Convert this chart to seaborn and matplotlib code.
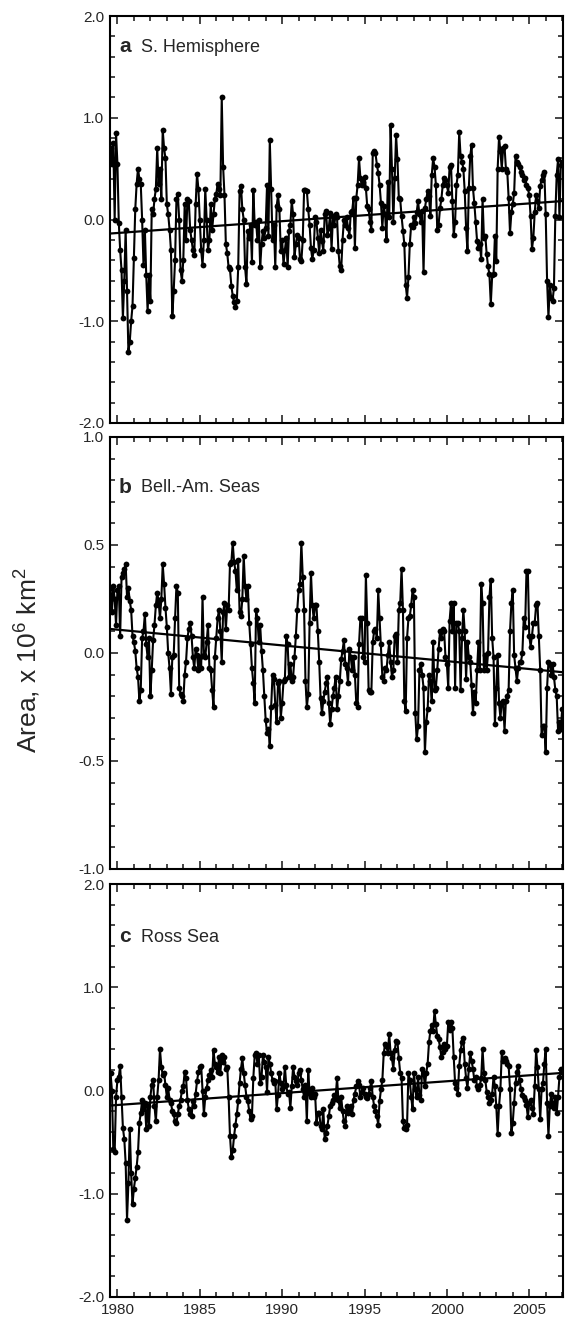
import numpy as np
import pandas as pd
import matplotlib
matplotlib.use("Agg")
import matplotlib.pyplot as plt
import seaborn as sns
from matplotlib.ticker import MultipleLocator, FormatStrFormatter

sns.set_style("ticks")
plt.rcParams['font.family'] = ['Liberation Sans', 'DejaVu Sans']
plt.rcParams['mathtext.fontset'] = 'custom'
plt.rcParams['mathtext.rm'] = 'Liberation Sans'
plt.rcParams['axes.unicode_minus'] = False

# ---------------- data (monthly anomalies, 10^6 km^2) ----------------
start_year = 1979 + 7 / 12

sh_1979_1986 = [0.7, 0.55, 0.75, 0.0, 0.85, 0.55, -0.03, -0.3, -0.5, -0.97,
                -0.6, -0.1, -0.7, -1.3, -1.2, -1.0, -0.85, -0.38, 0.1, 0.35,
                0.5, 0.4, 0.35, 0.0, -0.45, -0.1, -0.55, -0.9, -0.55, -0.8,
                0.1, 0.05, 0.2, 0.3, 0.7, 0.35, 0.5, 0.2, 0.88, 0.7,
                0.6, 0.15, 0.05, -0.1, -0.3, -0.95, -0.7, -0.4, 0.2, 0.25,
                0.0, -0.5, -0.6, -0.4, 0.15, -0.2, 0.2, 0.18, -0.1, -0.2,
                -0.3, -0.35, 0.15, 0.45, 0.3, 0.0, -0.3, -0.45, -0.2, 0.3,
                0.0, -0.3, -0.2, 0.15, -0.1, 0.05, 0.2, 0.25, 0.35, 0.3]
sh_1986_1993 = [0.24, 1.2, 0.52, 0.24, -0.24, -0.33, -0.47, -0.49, -0.65, -0.75,
                -0.81, -0.86, -0.8, -0.47, 0.28, 0.33, 0.1, 0.0, -0.47, -0.63,
                -0.11, -0.18, -0.05, -0.42, 0.29, -0.05, -0.02, -0.2, 0.0, -0.47,
                -0.24, -0.11, -0.18, -0.08, 0.34, -0.16, 0.78, 0.3, -0.2, -0.05,
                -0.47, 0.13, 0.24, 0.1, -0.31, -0.2, -0.44, -0.3, -0.18, -0.47,
                -0.11, -0.05, 0.18, 0.05, -0.37, -0.24, -0.15, -0.18, -0.39, -0.41,
                -0.2, 0.29, 0.29, 0.28, 0.1, -0.05, -0.28, -0.39, -0.3, 0.02,
                -0.02, -0.18, -0.33, -0.1, -0.21, -0.31, 0.05, 0.08, -0.15, -0.08,
                0.06, -0.29, 0.03, -0.05]
sh_1993_2000 = [0.05, 0.02, -0.31, -0.46, -0.5, -0.2, 0.0, -0.05, 0.02, -0.08,
                -0.16, 0.07, 0.08, 0.21, -0.28, 0.21, 0.34, 0.6, 0.41, 0.34,
                0.37, 0.42, 0.31, 0.13, 0.1, -0.02, -0.1, 0.65, 0.67, 0.65,
                0.54, 0.46, 0.34, 0.16, -0.08, 0.13, 0.05, -0.2, 0.37, 0.02,
                0.93, 0.5, -0.02, 0.41, 0.83, 0.59, 0.21, 0.2, 0.03, -0.11,
                -0.24, -0.64, -0.77, -0.57, -0.24, -0.05, -0.07, 0.02, -0.03, 0.07,
                0.18, 0.05, -0.02, 0.08, -0.52, 0.11, 0.2, 0.28, 0.23, 0.03,
                0.44, 0.6, 0.52, 0.34, -0.1, -0.05, 0.11, 0.2, 0.34, 0.41,
                0.39, 0.34, 0.26, 0.52]
sh_2000_2007 = [0.54, 0.18, -0.15, -0.02, 0.34, 0.44, 0.86, 0.62, 0.57, 0.5,
                0.28, -0.08, -0.31, 0.31, 0.62, 0.73, 0.31, 0.16,
                -0.02, -0.21, -0.28, -0.24, -0.39, 0.2, -0.18, -0.16, -0.34,
                -0.46, -0.54, -0.83, -0.55, -0.54, -0.16, -0.41, 0.5, 0.81, 0.67,
                0.5, 0.7, 0.72, 0.5, 0.47, 0.21, -0.13, 0.07, 0.15, 0.26,
                0.62, 0.57, 0.55, 0.52, 0.47, 0.44, 0.39, 0.41, 0.34,
                0.31, 0.24, 0.03, -0.29, -0.18, 0.07, 0.24, 0.18, 0.11, 0.33,
                0.39, 0.44, 0.47, 0.05, -0.6, -0.96, -0.64, -0.77, -0.8, -0.67,
                0.03, 0.44, 0.59, 0.02, 0.54, 0.57]

bas_1979_1986 = [0.3, 0.19, 0.31, 0.25, 0.13, 0.29, 0.31, 0.08, 0.35,
                 0.37, 0.39, 0.41, 0.26, 0.3, 0.24, 0.2, 0.08, 0.05,
                 0.01, -0.07, -0.11, -0.22, -0.17, 0.07, 0.1, 0.18, 0.04, -0.02,
                 0.07, -0.2, -0.08, 0.06, 0.13, 0.22, 0.28, 0.24,
                 0.16, 0.25, 0.41, 0.32, 0.21, 0.12, 0.0, -0.07, -0.19, -0.02,
                 -0.01, 0.16, 0.31, 0.28, -0.16, -0.19, -0.2, -0.22, -0.1,
                 -0.04, 0.07, 0.11, 0.14, 0.08, -0.02, -0.07, 0.02, -0.01, -0.08,
                 -0.02, -0.07, 0.26, -0.01, -0.02, 0.05, 0.13, -0.07, -0.08, -0.17,
                 -0.25, -0.02, 0.07, 0.16, 0.2]
bas_1986_1993 = [0.1, -0.04, 0.19, 0.23, 0.11, 0.22, 0.2, 0.41, 0.42,
                 0.51, 0.42, 0.38, 0.29, 0.43, 0.19, 0.17, 0.25, 0.45,
                 0.31, 0.25, 0.31, 0.14, 0.04, -0.07, -0.14, -0.23, 0.2, 0.16,
                 0.05, 0.13, 0.01, -0.08, -0.2, -0.31, -0.37, -0.35, -0.43, -0.25,
                 -0.1, -0.12, -0.24, -0.32, -0.14, -0.13, -0.3, -0.23, -0.13, -0.12,
                 0.08, 0.04, -0.11, -0.05, -0.13, -0.11, -0.02, 0.08, 0.2,
                 0.29, 0.32, 0.51, 0.35, 0.2, -0.13, -0.25, -0.19, 0.14, 0.37,
                 0.22, 0.16, 0.22, 0.22, 0.1, -0.04, -0.21, -0.28, -0.22, -0.18,
                 -0.14, -0.11, -0.23, -0.33, -0.26, -0.2, -0.16]
bas_1993_2000 = [-0.11, -0.26, -0.2, -0.13, -0.03, 0.01, 0.06, -0.05, -0.07,
                 -0.14, 0.02, -0.02, -0.08, -0.02, -0.1, -0.23, -0.25, 0.04,
                 0.16, 0.16, -0.02, -0.04, 0.36, 0.14, -0.17, -0.18, -0.18, 0.05,
                 0.1, 0.11, 0.07, 0.29, 0.16, 0.04, -0.11, -0.13, -0.07, -0.08,
                 -0.01, 0.05, -0.04, -0.11, -0.08, 0.08, 0.09, -0.04, 0.2, 0.23,
                 0.39, 0.2, -0.22, -0.27, 0.07, 0.16, 0.17, 0.22, 0.29,
                 0.26, -0.28, -0.4, -0.34, -0.08, -0.05, -0.1, -0.16, -0.46,
                 -0.32, -0.26, -0.1, -0.13, -0.22, 0.05, -0.17, -0.16, -0.08, 0.02,
                 0.1, 0.07, 0.11, 0.1, -0.02, -0.05, -0.16, 0.15]
bas_2000_2007 = [0.23, 0.1, 0.23, -0.16, 0.14, 0.14, 0.1, -0.17, 0.07,
                 0.2, 0.1, -0.12, 0.05, -0.02, -0.04, -0.15, -0.28, -0.18,
                 -0.23, -0.08, 0.05, -0.08, 0.32, 0.23, -0.08, -0.01, -0.08, 0.0,
                 0.26, 0.34, 0.07, -0.02, -0.33, -0.16, -0.01, -0.23, -0.3, -0.23,
                 -0.22, -0.36, -0.22, -0.2, -0.17, 0.1, 0.23, 0.29, -0.01,
                 -0.07, -0.13, -0.07, -0.04, -0.04, 0.0, 0.16, 0.12, 0.38, 0.38,
                 0.08, 0.03, 0.08, 0.14, 0.14, 0.22, 0.23, 0.08, -0.08,
                 -0.38, -0.34, -0.34, -0.46, -0.16, -0.04, -0.05, -0.1, -0.05, -0.11,
                 -0.17, -0.2, -0.36, -0.32, -0.35, -0.26]

ross_1979_1986 = [0.17, 0.0, -0.57, -0.6, -0.06, 0.1, 0.13, 0.24, -0.06,
                  -0.36, -0.47, -0.7, -1.25, -0.9, -0.37, -0.8, -1.1, -0.95, -0.85,
                  -0.74, -0.6, -0.31, -0.22, -0.09, -0.18, -0.12, -0.37, -0.15,
                  -0.34, -0.06, 0.05, 0.1, -0.15, -0.3, -0.06, 0.1, 0.4, 0.23,
                  0.15, 0.17, 0.05, -0.06, 0.02, -0.09, -0.12, -0.2, -0.23,
                  -0.3, -0.31, -0.23, -0.15, -0.09, 0.0, 0.04, 0.18, 0.12,
                  -0.09, -0.18, -0.23, -0.25, -0.1, -0.15, -0.03, 0.09, 0.18, 0.23,
                  0.24, 0.0, -0.23, -0.06, 0.02, 0.1, 0.15, 0.2, 0.13, 0.39,
                  0.26, 0.23, 0.18, 0.32]
ross_1986_1993 = [0.17, 0.34, 0.28, 0.32, 0.21, 0.23, -0.06, -0.44, -0.64,
                  -0.58, -0.44, -0.33, -0.23, -0.1, 0.07, 0.21, 0.31, 0.17, 0.05,
                  -0.06, -0.1, -0.2, -0.28, -0.25, 0.12, 0.34, 0.36, 0.26, 0.34,
                  0.07, 0.13, 0.34, 0.28, 0.23, -0.01, 0.32, 0.26, 0.17,
                  0.1, 0.07, 0.09, -0.18, -0.04, 0.17, 0.07, 0.01, 0.04, 0.23,
                  0.05, -0.03, -0.01, -0.17, 0.04, 0.23, 0.13, 0.09, 0.05,
                  0.17, 0.2, 0.1, 0.01, -0.06, 0.05, -0.3, 0.2, -0.03, -0.06,
                  0.02, -0.06, -0.03, -0.31, -0.22, -0.22, -0.34, -0.37, -0.18, -0.47,
                  -0.41, -0.34, -0.25, -0.15, -0.12, -0.09, -0.04]
ross_1993_2000 = [-0.06, 0.12, -0.09, -0.17, -0.06, -0.2, -0.3, -0.34, -0.15,
                  -0.22, -0.2, -0.15, -0.23, -0.09, -0.03, 0.04, 0.09, 0.05, -0.06,
                  -0.01, 0.02, -0.03, -0.06, -0.07, -0.03, 0.02, 0.09, -0.06,
                  -0.15, -0.2, -0.25, -0.33, -0.1, 0.01, 0.1, 0.36, 0.45, 0.43,
                  0.36, 0.55, 0.36, 0.31, 0.21, 0.39, 0.48, 0.47, 0.31, 0.17,
                  0.12, -0.3, -0.36, -0.37, -0.33, 0.17, 0.1, -0.06, -0.18, 0.17,
                  0.01, -0.06, 0.13, -0.04, -0.09, 0.21, 0.17, 0.04, 0.17,
                  0.26, 0.47, 0.58, 0.63, 0.58, 0.77, 0.64, 0.53, 0.5, 0.42,
                  0.32, 0.37, 0.45, 0.4, 0.43, 0.66, 0.59]
ross_2000_2007 = [0.66, 0.61, 0.32, 0.07, 0.02, -0.03, 0.24, 0.39, 0.47, 0.51,
                  0.26, 0.12, 0.02, 0.21, 0.36, 0.29, 0.21, 0.1, 0.13,
                  0.04, 0.01, 0.05, 0.12, 0.4, 0.17, 0.1, -0.01, -0.06,
                  -0.12, -0.09, -0.03, 0.13, 0.04, -0.15, -0.42, -0.15, 0.01, 0.37,
                  0.29, 0.31, 0.29, 0.26, 0.24, 0.01, -0.41, -0.31, -0.12, 0.07,
                  0.18, 0.24, 0.1, 0.01, -0.04, -0.06, -0.09, -0.14, -0.26,
                  -0.12, -0.09, -0.17, -0.23, 0.04, 0.39, 0.23, 0.01, -0.28,
                  0.01, 0.07, 0.26, 0.4, -0.12, -0.44, -0.15, -0.03, -0.12, -0.17,
                  -0.06, -0.22, -0.06, 0.13, 0.21, 0.18]

panel_letters = ["a", "b", "c"]
panel_names = ["S. Hemisphere", "Bell.-Am. Seas", "Ross Sea"]
year_ticks = [1980, 1985, 1990, 1995, 2000, 2005]
ylabel_text = "Area, x 10$^6$ km$^2$"

series = [
    sh_1979_1986 + sh_1986_1993 + sh_1993_2000 + sh_2000_2007,
    bas_1979_1986 + bas_1986_1993 + bas_1993_2000 + bas_2000_2007,
    ross_1979_1986 + ross_1986_1993 + ross_1993_2000 + ross_2000_2007,
]

# ---------------- layout ----------------
W, H = 566, 1322
fig = plt.figure(figsize=(W / 100, H / 100), dpi=100)
fig.patch.set_facecolor("white")

boxes = [(110, 16, 563, 423), (110, 437, 563, 869), (110, 884, 563, 1297)]
ylims = [(-2.0, 2.0), (-1.0, 1.0), (-2.0, 2.0)]
ymajor = [1.0, 0.5, 1.0]
yminor = [0.2, 0.1, 0.2]
label_y = [47, 487, 937]

for i, vals in enumerate(series):
    l, t, r, b = boxes[i]
    ax = fig.add_axes([l / W, 1 - b / H, (r - l) / W, (b - t) / H])
    n = len(vals)
    df = pd.DataFrame({"year": start_year + np.arange(n) / 12.0, "area": vals})
    sns.lineplot(data=df, x="year", y="area", ax=ax, color="black", lw=1.5,
                 marker="o", markersize=4.2, markeredgewidth=0,
                 estimator=None, sort=False)
    sns.regplot(data=df, x="year", y="area", ax=ax, scatter=False, ci=None,
                truncate=True, color="black", line_kws={"lw": 1.6})
    ax.set_xlim(1979.55, 2007.05)
    ax.set_ylim(*ylims[i])
    ax.xaxis.set_major_locator(MultipleLocator(5))
    ax.xaxis.set_minor_locator(MultipleLocator(1))
    ax.yaxis.set_major_locator(MultipleLocator(ymajor[i]))
    ax.yaxis.set_minor_locator(MultipleLocator(yminor[i]))
    ax.yaxis.set_major_formatter(FormatStrFormatter("%.1f"))
    ax.tick_params(which="both", direction="in", top=True, right=True,
                   width=1.2, labelsize=11, pad=4)
    ax.tick_params(which="major", length=6)
    ax.tick_params(which="minor", length=3.5)
    ax.set_xlabel("")
    ax.set_ylabel("")
    if i < 2:
        ax.set_xticklabels([])
    else:
        ax.set_xticks(year_ticks)
        ax.set_xticklabels([str(y) for y in year_ticks])
    for sp in ax.spines.values():
        sp.set_linewidth(1.5)
        sp.set_color("black")
    fig.text(119 / W, 1 - label_y[i] / H, panel_letters[i], fontsize=15,
             fontweight="bold", va="center", ha="left")
    fig.text(141 / W, 1 - label_y[i] / H, panel_names[i], fontsize=13,
             va="center", ha="left")

fig.text(27 / W, 1 - 660 / H, ylabel_text, rotation=90, fontsize=19,
         va="center", ha="center")

fig.savefig("out.png", dpi=100, facecolor="white")
